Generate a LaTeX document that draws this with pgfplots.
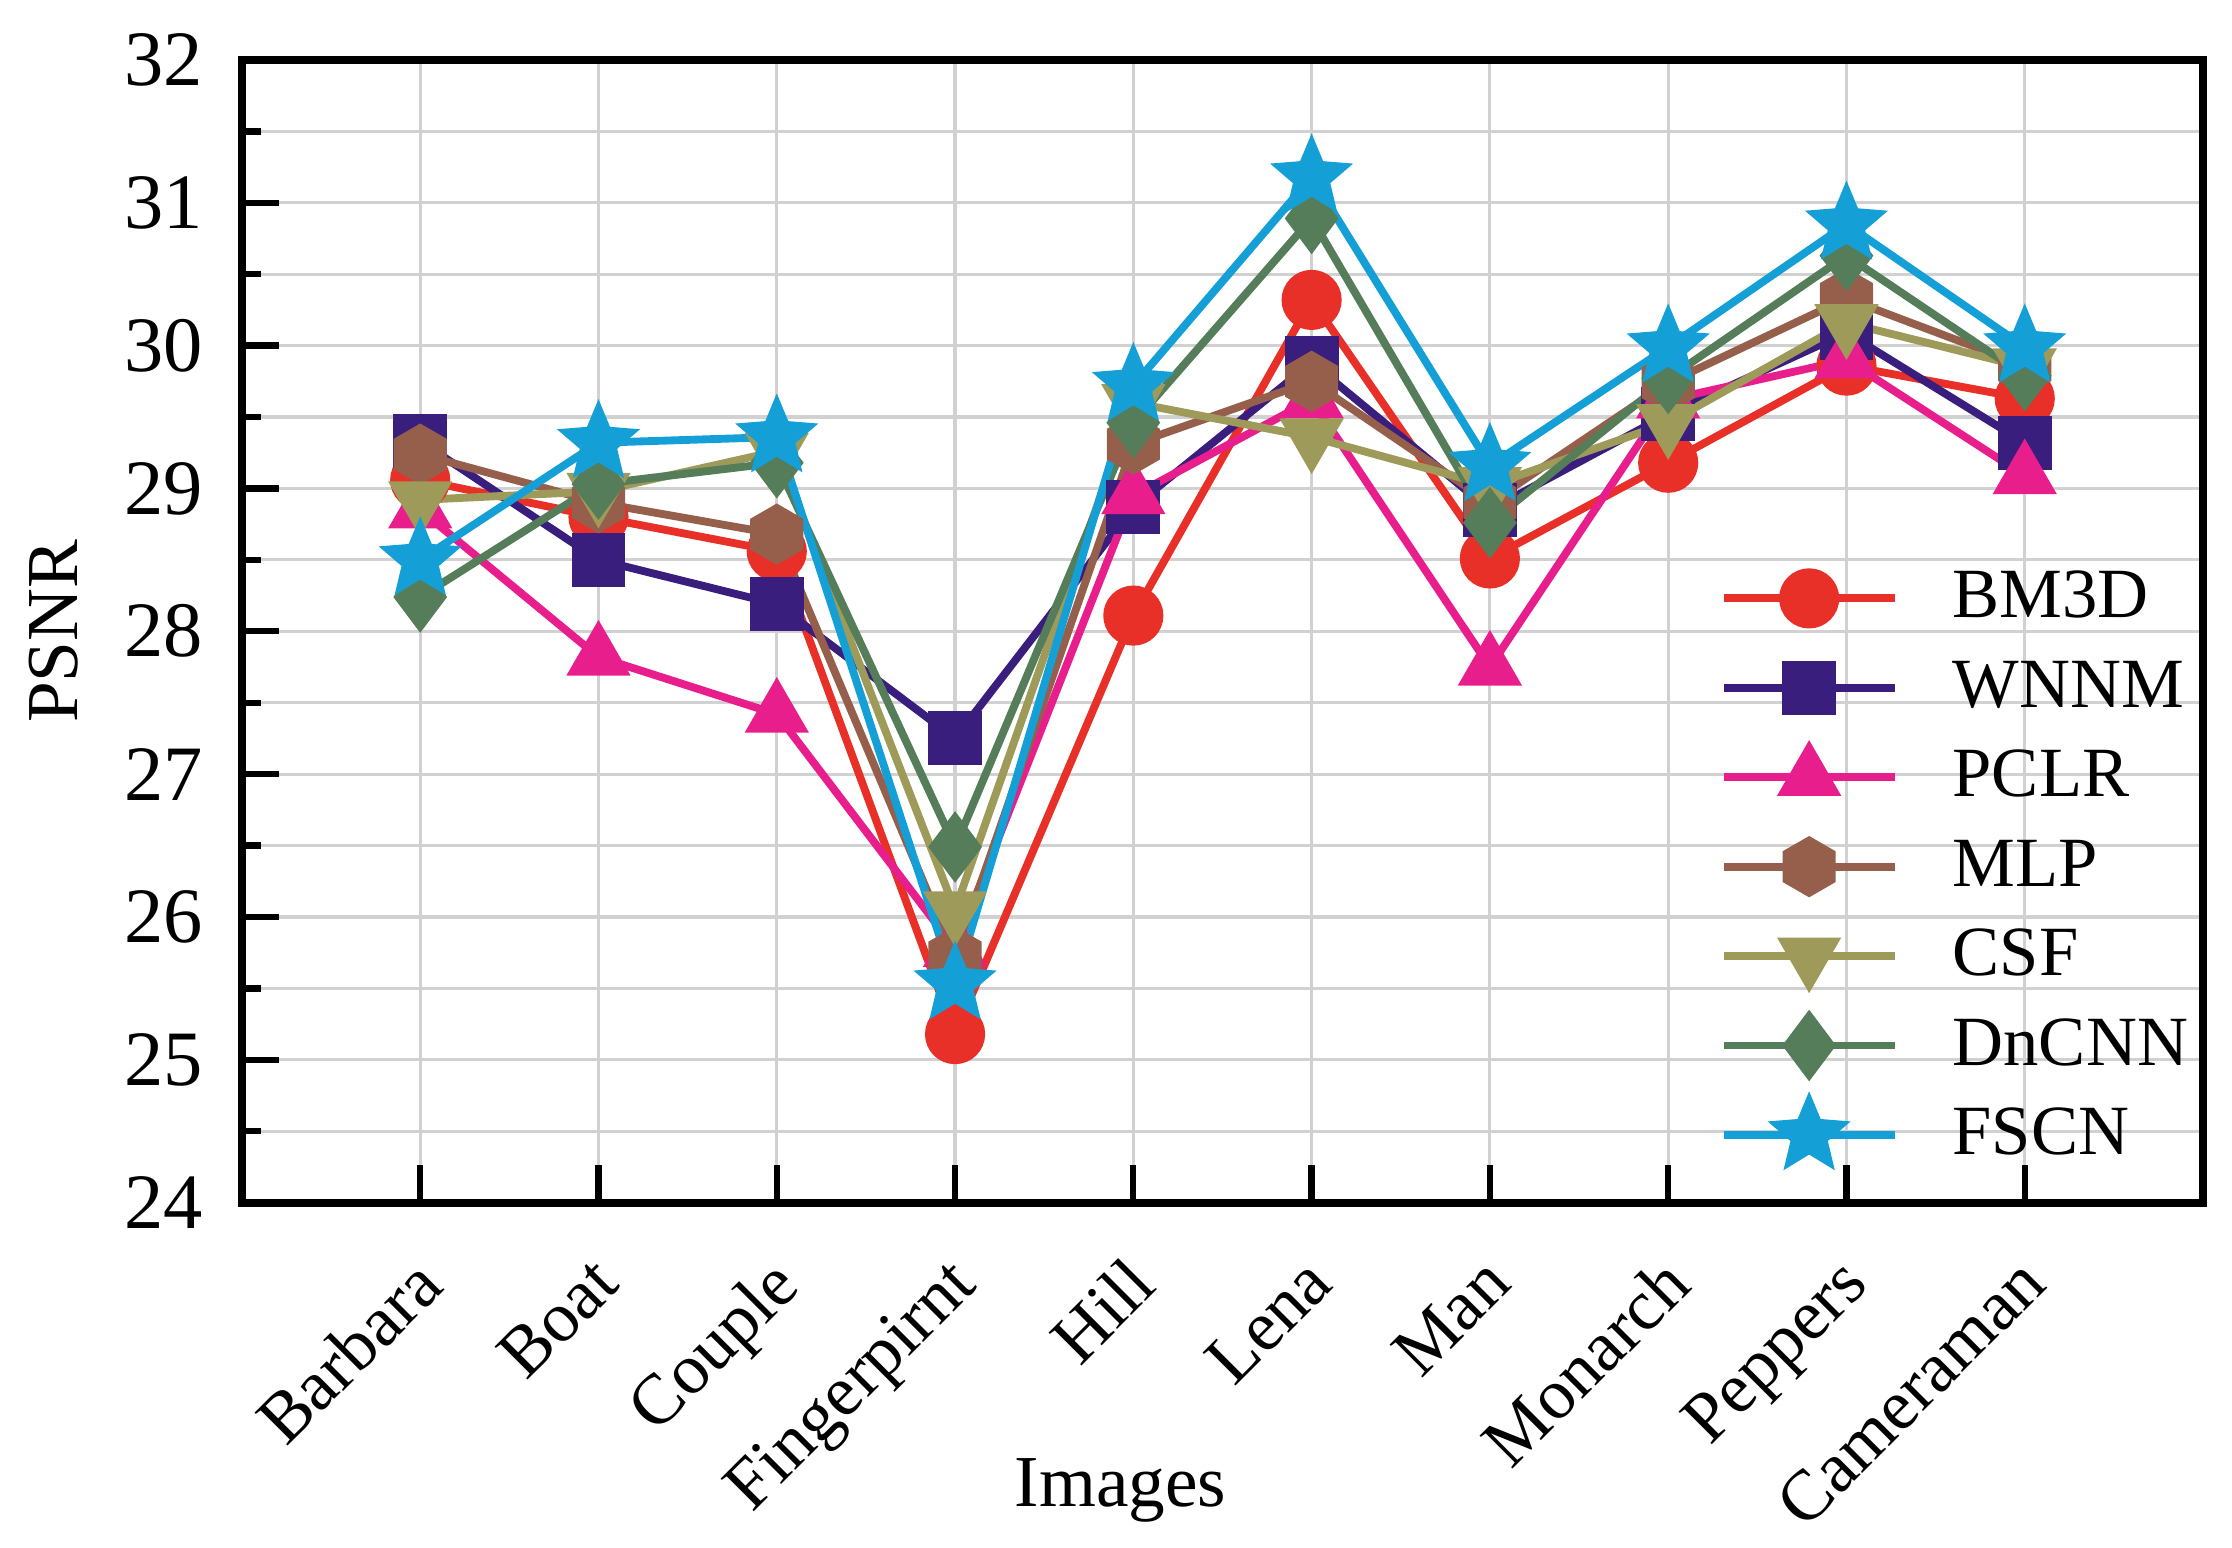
\documentclass[border=0pt]{standalone}
\usepackage{pgfplots}
\pgfplotsset{compat=1.18}
\usepackage{pgfplotstable}
\usepackage{fontspec}
\setmainfont{Liberation Serif}
\usetikzlibrary{plotmarks}

\definecolor{cBM}{RGB}{232,48,40}
\definecolor{cWN}{RGB}{58,30,125}
\definecolor{cPC}{RGB}{232,30,140}
\definecolor{cML}{RGB}{150,95,75}
\definecolor{cCS}{RGB}{158,155,90}
\definecolor{cDn}{RGB}{85,125,90}
\definecolor{cFS}{RGB}{20,160,215}

% filled hexagon, pointy top
\pgfdeclareplotmark{hexagon*}{%
  \pgfpathmoveto{\pgfpointpolar{90}{\pgfplotmarksize}}%
  \pgfpathlineto{\pgfpointpolar{150}{\pgfplotmarksize}}%
  \pgfpathlineto{\pgfpointpolar{210}{\pgfplotmarksize}}%
  \pgfpathlineto{\pgfpointpolar{270}{\pgfplotmarksize}}%
  \pgfpathlineto{\pgfpointpolar{330}{\pgfplotmarksize}}%
  \pgfpathlineto{\pgfpointpolar{30}{\pgfplotmarksize}}%
  \pgfpathclose\pgfusepathqfillstroke}
% filled five-pointed star
\pgfdeclareplotmark{star5*}{%
  \pgfpathmoveto{\pgfpointpolar{90}{\pgfplotmarksize}}%
  \pgfpathlineto{\pgfpointpolar{126}{0.45\pgfplotmarksize}}%
  \pgfpathlineto{\pgfpointpolar{162}{\pgfplotmarksize}}%
  \pgfpathlineto{\pgfpointpolar{198}{0.45\pgfplotmarksize}}%
  \pgfpathlineto{\pgfpointpolar{234}{\pgfplotmarksize}}%
  \pgfpathlineto{\pgfpointpolar{270}{0.45\pgfplotmarksize}}%
  \pgfpathlineto{\pgfpointpolar{306}{\pgfplotmarksize}}%
  \pgfpathlineto{\pgfpointpolar{342}{0.45\pgfplotmarksize}}%
  \pgfpathlineto{\pgfpointpolar{18}{\pgfplotmarksize}}%
  \pgfpathlineto{\pgfpointpolar{54}{0.45\pgfplotmarksize}}%
  \pgfpathclose\pgfusepathqfillstroke}

\pgfplotstableread{
x  BM3D  WNNM  PCLR  MLP   CSF   DnCNN FSCN
1  29.06 29.33 28.85 29.24 28.92 28.24 28.50
2  28.80 28.50 27.82 28.90 28.98 29.03 29.32
3  28.56 28.19 27.42 28.68 29.26 29.18 29.36
4  25.18 27.25 25.78 25.72 26.05 26.49 25.53
5  28.11 28.87 28.95 29.31 29.60 29.46 29.72
6  30.32 29.88 29.62 29.75 29.36 30.89 31.18
7  28.51 28.85 27.75 28.90 29.02 28.76 29.16
8  29.18 29.52 29.62 29.74 29.46 29.77 29.99
9  29.86 30.09 29.90 30.33 30.16 30.63 30.85
10 29.63 29.32 29.09 29.86 29.85 29.79 29.99
}\psnr

\begin{document}
\begin{tikzpicture}
\begin{axis}[
  scale only axis, width=13.18cm, height=7.68cm,
  xmin=0, xmax=11, ymin=24, ymax=32,
  xtick={1,...,10},
  xticklabels={Barbara,Boat,Couple,Fingerpirnt,Hill,Lena,Man,Monarch,Peppers,Cameraman},
  ytick={24,...,32}, minor ytick={24.5,25.5,...,31.5},
  xmajorgrids, ymajorgrids, yminorgrids,
  grid style={black!18, line width=0.6pt},
  minor grid style={black!18, line width=0.6pt},
  tick align=inside, xtick pos=bottom, ytick pos=left,
  major tick length=0.25cm, minor tick length=0.13cm,
  axis line style={line width=1.5pt},
  every tick/.style={black, line width=1.2pt},
  /pgf/number format/assume math mode=true,
  yticklabel style={font=\fontsize{15}{18}\selectfont, xshift=-4pt},
  xticklabel style={font=\fontsize{13.6}{16}\selectfont, rotate=45, anchor=north east, xshift=-4.7pt, yshift=-2.1pt},
  xlabel={Images}, ylabel={PSNR},
  label style={font=\fontsize{14}{17}\selectfont},
  xlabel style={at={(axis description cs:0.448,-0.252)}, anchor=center},
  ylabel style={at={(axis description cs:-0.096,0.5)}, anchor=center},
  every axis plot/.append style={line width=1.5pt},
  legend style={at={(axis description cs:0.745,0.578)}, anchor=north west,
    draw=none, fill=none, font=\fontsize{13.5}{16}\selectfont,
    nodes={text height=10.5pt, text depth=3pt, inner sep=1.8pt},
    /tikz/every odd column/.append style={column sep=0.3cm}},
  legend cell align=left,
  legend image code/.code={\draw[mark repeat=2,mark phase=2] plot coordinates {(0cm,0cm) (0.575cm,0cm) (1.15cm,0cm)};},
]
\addplot[cBM, mark=*, mark size=5pt, mark options={solid, fill=cBM}] table[x=x, y=BM3D]{\psnr};
\addlegendentry{BM3D}
\addplot[cWN, mark=square*, mark size=4.4pt, mark options={solid, fill=cWN}] table[x=x, y=WNNM]{\psnr};
\addlegendentry{WNNM}
\addplot[cPC, mark=triangle*, mark size=5.6pt, mark options={solid, fill=cPC}] table[x=x, y=PCLR]{\psnr};
\addlegendentry{PCLR}
\addplot[cML, mark=hexagon*, mark size=5pt, mark options={solid, fill=cML}] table[x=x, y=MLP]{\psnr};
\addlegendentry{MLP}
\addplot[cCS, mark=triangle*, mark size=5.6pt, mark options={solid, fill=cCS, rotate=180}] table[x=x, y=CSF]{\psnr};
\addlegendentry{CSF}
\addplot[cDn, mark=diamond*, mark size=5.6pt, mark options={solid, fill=cDn}] table[x=x, y=DnCNN]{\psnr};
\addlegendentry{DnCNN}
\addplot[cFS, mark=star5*, mark size=6.4pt, mark options={solid, fill=cFS}] table[x=x, y=FSCN]{\psnr};
\addlegendentry{FSCN}
\end{axis}
\pgfresetboundingbox
\path ([xshift=-1.626cm,yshift=-2.319cm]current axis.south west) rectangle ([xshift=0.195cm,yshift=0.403cm]current axis.north east);
\end{tikzpicture}
\end{document}
